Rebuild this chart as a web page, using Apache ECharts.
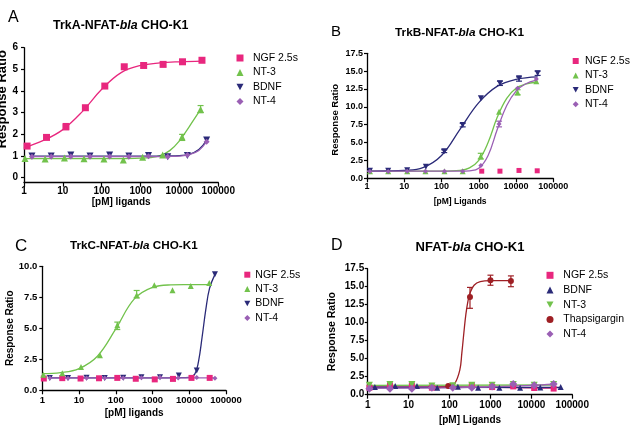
<!DOCTYPE html>
<html><head><meta charset="utf-8">
<script src="https://cdn.jsdelivr.net/npm/echarts@6/dist/echarts.min.js"></script>
<style>html,body{margin:0;padding:0;background:#fff}#c{width:630px;height:425px}</style>
</head><body><div id="c"></div>
<script>
// ---------- text ----------
const xTickLabels = ['1', '10', '100', '1000', '10000', '100000'];
const panelLetters = ['A', 'B', 'C', 'D'];
const titleParts = [
  ['TrkA-NFAT-', 'bla', ' CHO-K1'],
  ['TrkB-NFAT-', 'bla', ' CHO-K1'],
  ['TrkC-NFAT-', 'bla', ' CHO-K1'],
  ['NFAT-', 'bla', ' CHO-K1']
];
const yNames = ['Response Ratio', 'Response Ratio', 'Response Ratio', 'Response Ratio'];
const xNames = ['[pM] ligands', '[pM] Ligands', '[pM] ligands', '[pM] Ligands'];
const yTicksA = [0, 1, 2, 3, 4, 5, 6];

// ---------- data: [concentration pM, response ratio] ----------
// Panel A
const aNGF = [[1.2,1.46],[3.8,1.86],[12,2.35],[38,3.23],[120,4.23],[380,5.12],[1200,5.18],[3800,5.23],[12000,5.35],[38000,5.42]];
const aNGFfit = [[1,1.38],[3.16,1.72],[10,2.22],[31.6,3.05],[100,4.08],[316,4.85],[1000,5.18],[3162,5.3],[10000,5.35],[38000,5.38]];
const aNGFerr = [[12,2.22,2.5],[38000,5.33,5.52],[3800,5.15,5.32]];
const aNT3 = [[1.06,0.89],[3.5,0.86],[11,0.91],[35,0.88],[114,0.86],[360,0.82],[1130,0.94],[3700,1.05],[11700,1.88],[35000,3.15]];
const aNT3fit = [[1,0.88],[3.16,0.88],[10,0.88],[31.6,0.88],[100,0.88],[316,0.88],[1000,0.9],[1778,0.93],[3162,1.02],[5623,1.25],[10000,1.7],[17783,2.35],[35000,3.15]];
const aNT3err = [[11700,1.72,2.0],[35000,3.0,3.33]];
const aBDNF = [[1.6,1.0],[5,1.0],[16,1.05],[50,1.0],[160,1.05],[500,1.0],[1600,1.02],[5000,0.97],[16000,1.02],[50000,1.74]];
const aBDNFfit = [[1.6,0.99],[5,0.99],[16,0.99],[50,0.99],[160,0.99],[500,0.99],[1600,0.99],[5000,1.0],[10000,1.02],[17783,1.08],[31623,1.3],[50000,1.74]];
const aNT4 = [[1.6,0.97],[5,0.98],[16,0.98],[50,0.98],[160,0.98],[500,0.98],[1600,0.99],[5000,0.97],[16000,1.05],[50000,1.66]];
const aNT4fit = [[1.6,0.97],[5,0.97],[16,0.97],[50,0.97],[160,0.97],[500,0.97],[1600,0.97],[5000,0.98],[10000,1.0],[17783,1.06],[31623,1.26],[50000,1.66]];

// Panel B
const bNGF = [[1200,1.0],[3700,1.0],[12000,1.1],[37000,1.05]];
const bNT3 = [[1.2,1.0],[3.7,1.0],[12,1.0],[37,1.0],[120,1.0],[370,1.0],[1130,3.1],[3500,9.3],[11000,12.0],[35000,13.6]];
const bNT3fit = [[1,1.0],[3.16,1.0],[10,1.0],[31.6,1.0],[100,1.0],[316,1.1],[562,1.45],[1000,2.5],[1778,5.0],[3162,8.6],[5623,11.2],[10000,12.6],[17783,13.2],[35000,13.45]];
const bNT3err = [[1130,2.7,3.5],[11000,11.7,12.4]];
const bBDNF = [[1.2,1.07],[3.7,1.05],[12,1.12],[38,1.6],[118,3.8],[370,7.45],[1140,11.2],[3700,13.3],[12000,14.0],[38000,14.7]];
const bBDNFfit = [[1,1.0],[3.16,1.02],[10,1.1],[31.6,1.5],[100,3.2],[316,6.9],[1000,10.6],[3162,12.9],[10000,13.85],[38000,14.2]];
const bBDNFerr = [[118,3.6,4.0],[370,7.2,7.7],[3700,13.0,13.6],[12000,13.6,14.2],[38000,14.4,15.0]];
const bNT4 = [[1.2,0.95],[3.7,0.95],[12,0.98],[37,0.98],[120,1.0],[370,1.0],[1140,1.8],[3500,7.6],[11000,12.6],[35000,13.9]];
const bNT4fit = [[1,1.0],[3.16,1.0],[10,1.0],[31.6,1.0],[100,1.0],[316,1.0],[562,1.05],[1000,1.4],[1778,3.2],[3162,6.9],[5623,10.2],[10000,12.2],[17783,13.2],[35000,13.75]];
const bNT4err = [[3500,7.2,8.0]];

// Panel C
const cNGF = [[1.1,0.95],[3.5,0.98],[11,0.95],[35,0.97],[110,1.0],[350,0.93],[1150,0.88],[3600,0.92],[11500,1.0],[36000,1.0]];
const cNT3 = [[1.07,1.26],[3.5,1.37],[11.3,1.88],[37,2.82],[110,5.24],[370,7.66],[1120,8.47],[3500,8.06],[11000,8.41],[35000,8.66]];
const cNT3fit = [[1,1.34],[3.16,1.42],[10,1.75],[31.6,2.75],[100,4.95],[316,7.35],[1000,8.3],[3162,8.5],[10000,8.52],[35000,8.53]];
const cNT3err = [[110,4.9,5.5],[370,7.45,8.05]];
const cBDNF = [[1.6,1.0],[5,1.0],[16,1.02],[50,1.0],[160,1.02],[500,1.05],[1600,1.05],[5200,1.2],[16000,1.6],[50000,9.35]];
const cBDNFfit = [[1.6,1.0],[5,1.0],[16,1.0],[50,1.0],[160,1.0],[500,1.0],[1600,1.0],[5000,1.02],[10000,1.05],[14125,1.3],[17783,2.3],[22387,4.3],[28184,6.5],[35481,8.2],[50000,9.35]];
const cNT4 = [[1.6,1.0],[5,0.98],[16,1.0],[50,1.0],[160,1.0],[500,1.02],[1600,1.05],[5000,1.0],[16000,1.03],[50000,0.98]];
const cNT4fit = [[1.6,1.0],[50000,1.0]];

// Panel D
const dNGF = [[1.1,0.97],[3.5,1.3],[12,1.3],[37,0.97],[350,1.25],[1100,1.06],[3600,1.15],[11700,0.93],[35000,0.85]];
const dNGFfit = [[1,1.1],[100,1.1],[1000,1.05],[10000,0.95],[35000,0.9]];
const dBDNF = [[1.5,1.06],[4.7,1.2],[16,1.2],[50,0.97],[160,1.1],[500,0.97],[1650,0.97],[5300,0.97],[16500,1.0],[52000,1.06]];
const dBDNFfit = [[1,1.05],[52000,1.0]];
const dNT3 = [[1.1,1.3],[3.5,1.43],[12,1.4],[37,1.2],[120,1.25],[350,1.3],[1100,1.3],[3600,1.43],[11700,1.3],[35000,1.4]];
const dNT3fit = [[1,1.3],[35000,1.35]];
const dThap = [[93,1.2],[316,13.56],[1000,15.88],[3160,15.8]];
const dThapFit = [[30,1.0],[56,1.0],[100,1.15],[133,1.5],[178,3.4],[200,5.8],[224,8.6],[251,11.2],[282,13.0],[316,14.1],[398,15.2],[562,15.7],[1000,15.85],[3162,15.85]];
const dThapErr = [[316,12.0,14.9],[1000,15.2,16.6],[3160,15.0,16.5]];
const dNT4 = [[1.1,0.83],[3.5,0.83],[12,0.83],[37,0.97],[120,0.97],[350,0.97],[1100,1.15],[3600,1.5],[11700,1.3],[35000,1.5]];
const dNT4fit = [[1,0.88],[100,0.95],[1000,1.1],[10000,1.3],[35000,1.45]];

// ---------- styles ----------
const FONT = 'Liberation Sans, Arial, Helvetica, sans-serif';
const COL = { ngf: '#E8277E', nt3: '#72C24C', bdnf: '#2A2A78', nt4: '#9A5FB4', thap: '#9E1F24' };
const DOWN = 'path://M0,0L10,0L5,9Z';

const panels = [
  { key: 'A', grid: { left: 24, top: 47.7, width: 194.3, height: 135 }, ymin: -0.23, ymax: 6, ycustom: yTicksA, ydec: 0,
    tfs: 12.4, tl: 120.8, tt: 20, ll: 8, lt: 10, lfs: 16,
    tickFs: 10, xMargin: 4, yMargin: 6, yGap: 9, yNameFs: 13, yNamePad: [0, 0, 0, 32], xGap: 14, xNameFs: 10,
    legLeft: 236.5, legTop: 52, legW: 7, legPad: 4.5, legGap: 2.5, legFs: 10.5,
    series: [
      { name: 'NGF 2.5s', pts: aNGF, fit: aNGFfit, err: aNGFerr, color: COL.ngf, sym: 'rect', size: 7, icon: 'rect' },
      { name: 'NT-3', pts: aNT3, fit: aNT3fit, err: aNT3err, color: COL.nt3, sym: 'triangle', size: 7, icon: 'triangle' },
      { name: 'BDNF', pts: aBDNF, fit: aBDNFfit, color: COL.bdnf, sym: DOWN, size: 7, icon: DOWN },
      { name: 'NT-4', pts: aNT4, fit: aNT4fit, color: COL.nt4, sym: 'diamond', size: 6, icon: 'diamond' }
    ] },
  { key: 'B', grid: { left: 367, top: 53.3, width: 186.3, height: 125 }, ymin: 0, ymax: 17.5, interval: 2.5, ydec: 1,
    tfs: 11.8, tl: 459.5, tt: 26.5, ll: 331, lt: 24, lfs: 15,
    tickFs: 9, xMargin: 4, yMargin: 4, yGap: 27, yNameFs: 9.5, yNamePad: [0, 8, 0, 0], xGap: 19, xNameFs: 8.5,
    legLeft: 572.7, legTop: 55, legW: 6, legPad: 1.3, legGap: 2.4, legFs: 10.5,
    series: [
      { name: 'NGF 2.5s', pts: bNGF, color: COL.ngf, sym: 'rect', size: 5, icon: 'rect' },
      { name: 'NT-3', pts: bNT3, fit: bNT3fit, err: bNT3err, color: COL.nt3, sym: 'triangle', size: 6, icon: 'triangle' },
      { name: 'BDNF', pts: bBDNF, fit: bBDNFfit, err: bBDNFerr, color: COL.bdnf, sym: DOWN, size: 6, icon: DOWN },
      { name: 'NT-4', pts: bNT4, fit: bNT4fit, err: bNT4err, color: COL.nt4, sym: 'diamond', size: 5, icon: 'diamond' }
    ] },
  { key: 'C', grid: { left: 42.3, top: 266.3, width: 183.7, height: 124 }, ymin: 0, ymax: 10, interval: 2.5, ydec: 1,
    tfs: 11.7, tl: 133.8, tt: 240, ll: 15, lt: 238, lfs: 17,
    tickFs: 9.5, xMargin: 5, yMargin: 5, yGap: 27, yNameFs: 10, yNamePad: 0, xGap: 18, xNameFs: 10,
    legLeft: 244.3, legTop: 268.7, legW: 6, legPad: 0, legGap: 2.4, legFs: 10.5,
    series: [
      { name: 'NGF 2.5s', pts: cNGF, color: COL.ngf, sym: 'rect', size: 6, icon: 'rect' },
      { name: 'NT-3', pts: cNT3, fit: cNT3fit, err: cNT3err, color: COL.nt3, sym: 'triangle', size: 6, icon: 'triangle' },
      { name: 'BDNF', pts: cBDNF, fit: cBDNFfit, color: COL.bdnf, sym: DOWN, size: 6, icon: DOWN },
      { name: 'NT-4', pts: cNT4, fit: cNT4fit, color: COL.nt4, sym: 'diamond', size: 5, icon: 'diamond' }
    ] },
  { key: 'D', grid: { left: 367.7, top: 268.7, width: 204.6, height: 126 }, ymin: 0, ymax: 17.5, interval: 2.5, ydec: 1,
    tfs: 13, tl: 470, tt: 240.5, ll: 331, lt: 238, lfs: 16,
    tickFs: 10, xMargin: 5.5, yMargin: 3.5, yGap: 30, yNameFs: 10.5, yNamePad: 0, xGap: 20.5, xNameFs: 10,
    legLeft: 546.5, legTop: 269.3, legW: 7, legPad: 4.8, legGap: 2.7, legFs: 10.5,
    series: [
      { name: 'NGF 2.5s', pts: dNGF, fit: dNGFfit, color: COL.ngf, sym: 'rect', size: 6, icon: 'rect' },
      { name: 'BDNF', pts: dBDNF, fit: dBDNFfit, color: COL.bdnf, sym: 'triangle', size: 6, icon: 'triangle' },
      { name: 'NT-3', pts: dNT3, fit: dNT3fit, color: COL.nt3, sym: DOWN, size: 7, icon: DOWN },
      { name: 'Thapsigargin', pts: dThap, fit: dThapFit, err: dThapErr, color: COL.thap, sym: 'circle', size: 6, icon: 'circle' },
      { name: 'NT-4', pts: dNT4, fit: dNT4fit, color: COL.nt4, sym: 'diamond', size: 8, icon: 'diamond' }
    ] }
];

// ---------- build option ----------
const titles = [], grids = [], xAxes = [], yAxes = [], legends = [], series = [];
const axisLine = { show: true, onZero: false, lineStyle: { color: '#000', width: 1.3 } };

panels.forEach((p, i) => {
  titles.push({ text: panelLetters[i], left: p.ll, top: p.lt, padding: 0,
    textStyle: { fontFamily: FONT, fontSize: p.lfs, fontWeight: 'normal', color: '#000' } });
  const tp = titleParts[i];
  const rb = { fontFamily: FONT, fontWeight: 'bold', fontSize: p.tfs, color: '#000' };
  titles.push({ text: '{b|' + tp[0] + '}{i|' + tp[1] + '}{b|' + tp[2] + '}', left: p.tl, top: p.tt, textAlign: 'center', padding: 0,
    textStyle: { rich: { b: rb, i: Object.assign({}, rb, { fontStyle: 'italic' }) } } });

  grids.push(Object.assign({ containLabel: false, outerBoundsMode: 'none' }, p.grid));

  xAxes.push({ type: 'log', logBase: 10, min: 1, max: 100000, gridIndex: i,
    axisLine, splitLine: { show: false },
    axisTick: { show: true, length: 4, lineStyle: { color: '#000', width: 1.2 } },
    axisLabel: { margin: p.xMargin, fontFamily: FONT, fontSize: p.tickFs, fontWeight: 'bold', color: '#000',
      formatter: v => xTickLabels[Math.round(Math.log10(v))] },
    name: xNames[i], nameLocation: 'middle', nameGap: p.xGap,
    nameTextStyle: { fontFamily: FONT, fontSize: p.xNameFs, fontWeight: 'bold', color: '#000' } });

  const ya = { type: 'value', gridIndex: i, min: p.ymin, max: p.ymax,
    axisLine, splitLine: { show: false },
    axisTick: { show: true, length: 3, lineStyle: { color: '#000', width: 1.2 } },
    axisLabel: { margin: p.yMargin, fontFamily: FONT, fontSize: p.tickFs, fontWeight: 'bold', color: '#000',
      formatter: v => Number(v).toFixed(p.ydec) },
    name: yNames[i], nameLocation: 'middle', nameGap: p.yGap,
    nameTextStyle: { fontFamily: FONT, fontSize: p.yNameFs, fontWeight: 'bold', color: '#000', padding: p.yNamePad } };
  if (p.interval) ya.interval = p.interval;
  if (p.ycustom) { ya.axisLabel.customValues = p.ycustom; ya.axisTick.customValues = p.ycustom; }
  yAxes.push(ya);

  legends.push({ orient: 'vertical', left: p.legLeft, top: p.legTop, padding: 0,
    itemWidth: p.legW, itemHeight: p.legW, itemGap: p.legGap, selectedMode: false,
    data: p.series.map(s => ({ name: p.key + '|' + s.name, icon: s.icon, itemStyle: { color: s.color, borderWidth: 0 } })),
    formatter: n => n.split('|')[1],
    textStyle: { fontFamily: FONT, fontSize: p.legFs, color: '#000', lineHeight: 12, padding: [0, 0, 0, p.legPad] } });

  p.series.forEach(s => {
    if (s.fit) series.push({ type: 'line', name: p.key + '|' + s.name + ' fit', xAxisIndex: i, yAxisIndex: i,
      data: s.fit, showSymbol: false, symbol: 'none', smooth: 0.4, silent: true, z: 2,
      lineStyle: { color: s.color, width: 1.3 } });
    if (s.err) series.push({ type: 'custom', name: p.key + '|' + s.name + ' err', xAxisIndex: i, yAxisIndex: i,
      data: s.err, encode: { x: 0, y: [1, 2] }, silent: true, z: 2,
      renderItem: (params, api) => {
        const a = api.coord([api.value(0), api.value(1)]);
        const b = api.coord([api.value(0), api.value(2)]);
        const w = 3, st = { stroke: s.color, lineWidth: 1.2 };
        return { type: 'group', children: [
          { type: 'line', shape: { x1: a[0], y1: a[1], x2: b[0], y2: b[1] }, style: st },
          { type: 'line', shape: { x1: a[0] - w, y1: a[1], x2: a[0] + w, y2: a[1] }, style: st },
          { type: 'line', shape: { x1: b[0] - w, y1: b[1], x2: b[0] + w, y2: b[1] }, style: st }
        ] };
      } });
    series.push({ type: 'scatter', name: p.key + '|' + s.name, xAxisIndex: i, yAxisIndex: i,
      data: s.pts, symbol: s.sym, symbolSize: s.size, z: 3,
      itemStyle: { color: s.color, opacity: 1 } });
  });
});

const chart = echarts.init(document.getElementById('c'), null, { renderer: 'canvas' });
chart.setOption({ animation: false, backgroundColor: '#fff',
  title: titles, grid: grids, xAxis: xAxes, yAxis: yAxes, legend: legends, series });
</script></body></html>
